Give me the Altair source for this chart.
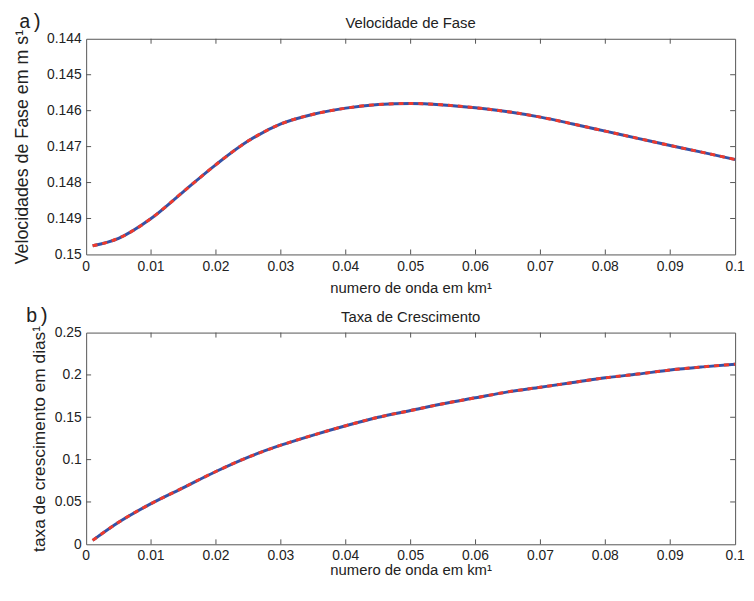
import altair as alt
import pandas as pd

# wavenumber (km^-1)
k = [0.001, 0.005, 0.01, 0.015, 0.02, 0.025, 0.03, 0.035, 0.04, 0.045, 0.05,
     0.055, 0.06, 0.065, 0.07, 0.075, 0.08, 0.085, 0.09, 0.095, 0.1]
# phase speed (m s^-1)
vel = [0.14976, 0.14955, 0.14900, 0.14825, 0.14750, 0.14684, 0.14637, 0.14610,
       0.14593, 0.14583, 0.14580, 0.14584, 0.14592, 0.14603, 0.14618, 0.14637,
       0.14657, 0.14677, 0.14697, 0.14716, 0.14736]
# growth rate (days^-1)
taxa = [0.0046, 0.026, 0.048, 0.067, 0.086, 0.103, 0.117, 0.129, 0.140, 0.150,
        0.158, 0.166, 0.173, 0.180, 0.1855, 0.191, 0.1966, 0.201, 0.2058, 0.2095, 0.2127]

x_ticks = [0, 0.01, 0.02, 0.03, 0.04, 0.05, 0.06, 0.07, 0.08, 0.09, 0.1]
vel_ticks = [0.144, 0.145, 0.146, 0.147, 0.148, 0.149, 0.15]
taxa_ticks = [0, 0.05, 0.1, 0.15, 0.2, 0.25]
panel_labels = ["a)", "b)"]
titles = ["Velocidade de Fase", "Taxa de Crescimento"]
y_titles = ["Velocidades de Fase em m s\u00b9", "taxa de crescimento em dias\u00b9"]
x_title = "numero de onda em  km\u00b9"

W = 656
TL = 5
BLUE = "#3552a6"
RED = "#ee3a2c"
FONT = "Liberation Sans"
TXT = "#222222"

df = pd.DataFrame({"k": k, "vel": vel, "taxa": taxa})
xs = alt.Scale(domain=[0, 0.1], nice=False, zero=False)


def panel(ycol, yticks, ydomain, reverse, title, ytitle, ytitle_size, label,
          title_pad, lab_dx, xlab_off, xtitle_pad, H):
    ys = alt.Scale(domain=ydomain, nice=False, zero=False, reverse=reverse)
    xaxis = alt.Axis(values=x_ticks, labels=False, title=x_title, titlePadding=xtitle_pad)
    yaxis = alt.Axis(values=yticks, format="~g", title=ytitle, titlePadding=title_pad,
                     titleFontSize=ytitle_size, labelFlush=False, labelOverlap=False)
    base = alt.Chart(df)
    blue = base.mark_line(color=BLUE, strokeWidth=3, interpolate="monotone").encode(
        x=alt.X("k:Q", scale=xs, axis=xaxis),
        y=alt.Y(f"{ycol}:Q", scale=ys, axis=yaxis),
    )
    red = base.mark_line(color=RED, strokeWidth=3, strokeDash=[5, 5],
                         interpolate="monotone").encode(
        x=alt.X("k:Q", scale=xs, axis=xaxis),
        y=alt.Y(f"{ycol}:Q", scale=ys, axis=yaxis),
    )
    xt_all = pd.DataFrame({"k": x_ticks})
    xt = pd.DataFrame({"k": x_ticks[1:-1]})
    yt = pd.DataFrame({ycol: yticks[1:-1]})
    tick_style = dict(color="#555555", strokeWidth=1)
    top_t = alt.Chart(xt).mark_rule(**tick_style).encode(
        x=alt.X("k:Q", scale=xs, axis=xaxis), y=alt.value(0), y2=alt.value(TL))
    bot_t = alt.Chart(xt).mark_rule(**tick_style).encode(
        x=alt.X("k:Q", scale=xs, axis=xaxis), y=alt.value(H - TL), y2=alt.value(H))
    left_t = alt.Chart(yt).mark_rule(**tick_style).encode(
        y=alt.Y(f"{ycol}:Q", scale=ys, axis=yaxis), x=alt.value(0), x2=alt.value(TL))
    right_t = alt.Chart(yt).mark_rule(**tick_style).encode(
        y=alt.Y(f"{ycol}:Q", scale=ys, axis=yaxis), x=alt.value(W - TL), x2=alt.value(W))
    xlabels = alt.Chart(xt_all).mark_text(
        font=FONT, fontSize=14, align="center", baseline="top", color=TXT).encode(
        x=alt.X("k:Q", scale=xs, axis=xaxis), y=alt.value(H + xlab_off),
        text=alt.Text("k:Q", format="~g"))
    lab = alt.Chart(pd.DataFrame({"t": [label]})).mark_text(
        font="Liberation Mono", fontSize=20, align="left", baseline="alphabetic",
        color=TXT).encode(
        x=alt.value(lab_dx), y=alt.value(-11), text="t:N")
    ttl = alt.Chart(pd.DataFrame({"t": [title]})).mark_text(
        font=FONT, fontSize=15, align="center", baseline="alphabetic",
        color=TXT).encode(
        x=alt.value(W / 2), y=alt.value(-11), text="t:N")
    return alt.layer(blue, red, top_t, bot_t, left_t, right_t, xlabels, lab, ttl).properties(
        width=W, height=H)


top = panel("vel", vel_ticks, [0.144, 0.15], True, titles[0], y_titles[0], 18,
            panel_labels[0], 15, -68, 6, 26, 218)
bottom = panel("taxa", taxa_ticks, [0, 0.25], False, titles[1], y_titles[1], 17.5,
               panel_labels[1], 6, -61, 5, 19, 214)

chart = alt.vconcat(top, bottom, spacing=9).properties(
    padding={"left": 5, "top": 0, "right": 0, "bottom": 0}
).configure_view(
    stroke="#555555", strokeWidth=1
).configure_axis(
    domain=False, ticks=False, tickSize=0, grid=False,
    labelFont=FONT, labelFontSize=14, labelColor=TXT, labelPadding=5,
    titleFont=FONT, titleFontSize=15, titleFontWeight="normal", titleColor=TXT,
)

chart.save("out.html", embed_options={"renderer": "svg", "actions": False})
